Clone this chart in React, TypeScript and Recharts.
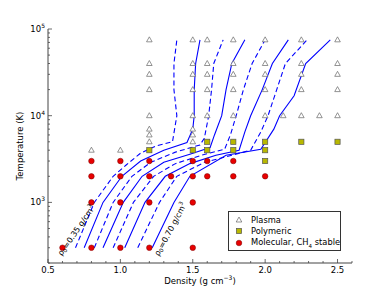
import {
  ComposedChart,
  Label,
  Legend,
  Line,
  ReferenceDot,
  Scatter,
  XAxis,
  YAxis,
} from 'recharts';

// isentropes, rho0 = 0.35 ... 0.70 g/cm3 (density g/cm3, temperature K)
const rho035 = [
  { d: 0.69, T: 300 }, { d: 0.82, T: 1000 }, { d: 0.95, T: 2000 }, { d: 1.04, T: 2700 },
  { d: 1.14, T: 3700 }, { d: 1.25, T: 4500 }, { d: 1.36, T: 5000 }, { d: 1.39, T: 10000 },
  { d: 1.37, T: 20000 }, { d: 1.37, T: 40000 }, { d: 1.39, T: 75000 },
];
const rho040 = [
  { d: 0.75, T: 300 }, { d: 0.88, T: 1000 }, { d: 1.01, T: 2000 }, { d: 1.14, T: 3000 },
  { d: 1.3, T: 4000 }, { d: 1.46, T: 4900 }, { d: 1.5, T: 7000 }, { d: 1.51, T: 10000 },
  { d: 1.51, T: 20000 }, { d: 1.52, T: 40000 }, { d: 1.55, T: 75000 },
];
const rho045 = [
  { d: 0.82, T: 300 }, { d: 0.95, T: 1000 }, { d: 1.08, T: 2000 }, { d: 1.21, T: 2900 },
  { d: 1.38, T: 3800 }, { d: 1.55, T: 4600 }, { d: 1.58, T: 5500 }, { d: 1.61, T: 10000 },
  { d: 1.63, T: 20000 }, { d: 1.645, T: 40000 }, { d: 1.71, T: 75000 },
];
const rho050 = [
  { d: 0.88, T: 300 }, { d: 1.02, T: 1000 }, { d: 1.15, T: 2000 }, { d: 1.3, T: 2900 },
  { d: 1.48, T: 3600 }, { d: 1.62, T: 4300 }, { d: 1.65, T: 6000 }, { d: 1.7, T: 10000 },
  { d: 1.73, T: 20000 }, { d: 1.77, T: 40000 }, { d: 1.86, T: 75000 },
];
const rho055 = [
  { d: 0.95, T: 300 }, { d: 1.09, T: 1000 }, { d: 1.23, T: 2000 }, { d: 1.38, T: 2800 },
  { d: 1.56, T: 3500 }, { d: 1.72, T: 4100 }, { d: 1.76, T: 6000 }, { d: 1.8, T: 10000 },
  { d: 1.85, T: 20000 }, { d: 1.91, T: 40000 }, { d: 2.0, T: 75000 },
];
const rho060 = [
  { d: 1.03, T: 300 }, { d: 1.17, T: 1000 }, { d: 1.31, T: 2000 }, { d: 1.48, T: 2800 },
  { d: 1.66, T: 3500 }, { d: 1.82, T: 4000 }, { d: 1.86, T: 6500 }, { d: 1.9, T: 10000 },
  { d: 1.98, T: 20000 }, { d: 2.05, T: 40000 }, { d: 2.16, T: 75000 },
];
const rho065 = [
  { d: 1.12, T: 300 }, { d: 1.27, T: 1000 }, { d: 1.39, T: 2000 }, { d: 1.58, T: 2900 },
  { d: 1.77, T: 3500 }, { d: 1.9, T: 4000 }, { d: 1.97, T: 6500 }, { d: 2.02, T: 10000 },
  { d: 2.08, T: 20000 }, { d: 2.14, T: 40000 }, { d: 2.29, T: 75000 },
];
const rho070 = [
  { d: 1.22, T: 300 }, { d: 1.37, T: 1000 }, { d: 1.48, T: 2000 }, { d: 1.73, T: 3500 },
  { d: 1.97, T: 4100 }, { d: 2.06, T: 7000 }, { d: 2.1, T: 10000 }, { d: 2.2, T: 17000 },
  { d: 2.28, T: 40000 }, { d: 2.45, T: 75000 },
];

const isentropes = [
  { name: '0.35', data: rho035, dashed: true },
  { name: '0.40', data: rho040, dashed: false },
  { name: '0.45', data: rho045, dashed: true },
  { name: '0.50', data: rho050, dashed: false },
  { name: '0.55', data: rho055, dashed: true },
  { name: '0.60', data: rho060, dashed: false },
  { name: '0.65', data: rho065, dashed: true },
  { name: '0.70', data: rho070, dashed: false },
];

const plasma = [
  { d: 0.8, T: 4000 }, { d: 1.0, T: 4000 },
  { d: 1.2, T: 5000 }, { d: 1.2, T: 6000 }, { d: 1.2, T: 7000 }, { d: 1.2, T: 10000 },
  { d: 1.2, T: 20000 }, { d: 1.2, T: 30000 }, { d: 1.2, T: 40000 }, { d: 1.2, T: 75000 },
  { d: 1.5, T: 5000 }, { d: 1.5, T: 6000 }, { d: 1.5, T: 7000 }, { d: 1.5, T: 10000 },
  { d: 1.5, T: 20000 }, { d: 1.5, T: 30000 }, { d: 1.5, T: 40000 }, { d: 1.5, T: 75000 },
  { d: 1.6, T: 10000 }, { d: 1.6, T: 20000 }, { d: 1.6, T: 30000 }, { d: 1.6, T: 40000 }, { d: 1.6, T: 75000 },
  { d: 1.78, T: 10000 }, { d: 1.78, T: 20000 }, { d: 1.78, T: 30000 }, { d: 1.78, T: 40000 }, { d: 1.78, T: 75000 },
  { d: 2.0, T: 10000 }, { d: 2.0, T: 20000 }, { d: 2.0, T: 30000 }, { d: 2.0, T: 40000 }, { d: 2.0, T: 75000 },
  { d: 2.125, T: 10000 },
  { d: 2.25, T: 10000 }, { d: 2.25, T: 20000 }, { d: 2.25, T: 30000 }, { d: 2.25, T: 40000 }, { d: 2.25, T: 75000 },
  { d: 2.375, T: 10000 },
  { d: 2.5, T: 10000 }, { d: 2.5, T: 20000 }, { d: 2.5, T: 30000 }, { d: 2.5, T: 40000 }, { d: 2.5, T: 75000 },
];

const polymeric = [
  { d: 1.2, T: 4000 }, { d: 1.5, T: 4000 },
  { d: 1.6, T: 4000 }, { d: 1.6, T: 5000 },
  { d: 1.78, T: 4000 }, { d: 1.78, T: 5000 },
  { d: 2.0, T: 3000 }, { d: 2.0, T: 4000 }, { d: 2.0, T: 5000 },
  { d: 2.25, T: 5000 }, { d: 2.5, T: 5000 },
];

const molecular = [
  { d: 0.6, T: 300 },
  { d: 0.8, T: 300 }, { d: 0.8, T: 1000 }, { d: 0.8, T: 2000 }, { d: 0.8, T: 3000 },
  { d: 1.0, T: 300 }, { d: 1.0, T: 1000 }, { d: 1.0, T: 2000 }, { d: 1.0, T: 3000 },
  { d: 1.2, T: 300 }, { d: 1.2, T: 1000 }, { d: 1.2, T: 2000 }, { d: 1.2, T: 3000 },
  { d: 1.35, T: 2000 },
  { d: 1.5, T: 300 }, { d: 1.5, T: 1000 }, { d: 1.5, T: 2000 }, { d: 1.5, T: 3000 },
  { d: 1.6, T: 2000 }, { d: 1.6, T: 3000 },
  { d: 1.78, T: 2000 }, { d: 1.78, T: 3000 },
  { d: 2.0, T: 2000 },
];

const xTicks = [
  0.5, 0.6, 0.7, 0.8, 0.9, 1.0, 1.1, 1.2, 1.3, 1.4, 1.5, 1.6, 1.7, 1.8, 1.9, 2.0,
  2.1, 2.2, 2.3, 2.4, 2.5, 2.6,
];
const xLabels = [0.5, 1.0, 1.5, 2.0, 2.5];
const yTicks = [
  200, 300, 400, 500, 600, 700, 800, 900, 1000, 2000, 3000, 4000, 5000, 6000, 7000,
  8000, 9000, 10000, 20000, 30000, 40000, 50000, 60000, 70000, 80000, 90000, 100000,
];

const FONT = 'DejaVu Sans, sans-serif';
const AXIS = '#444';

const isMajorX = (v: number) => xLabels.some((m) => Math.abs(m - v) < 1e-6);
const isMajorY = (v: number) => Math.abs(Math.log10(v) - Math.round(Math.log10(v))) < 1e-6;

function BottomTick({ x, y, payload }: any) {
  const major = isMajorX(payload.value);
  return (
    <g>
      <line x1={x} y1={y} x2={x} y2={y - (major ? 4 : 2)} stroke={AXIS} strokeWidth={0.8} />
      {major && (
        <text x={x} y={y + 10} textAnchor="middle" fontSize={8.5} fontFamily={FONT} fill="#000">
          {payload.value.toFixed(1)}
        </text>
      )}
    </g>
  );
}

function TopTick({ x, y, payload }: any) {
  const major = isMajorX(payload.value);
  return <line x1={x} y1={y} x2={x} y2={y + (major ? 4 : 2)} stroke={AXIS} strokeWidth={0.8} />;
}

function LeftTick({ x, y, payload }: any) {
  const major = isMajorY(payload.value);
  const exp = Math.round(Math.log10(payload.value));
  return (
    <g>
      <line x1={x} y1={y} x2={x + (major ? 4 : 2)} y2={y} stroke={AXIS} strokeWidth={0.8} />
      {major && (
        <text x={x - 3} y={y + 3} textAnchor="end" fontSize={8.5} fontFamily={FONT} fill="#000">
          10<tspan fontSize={6} dy={-4}>{exp}</tspan>
        </text>
      )}
    </g>
  );
}

function RightTick({ x, y, payload }: any) {
  const major = isMajorY(payload.value);
  return <line x1={x} y1={y} x2={x - (major ? 4 : 2)} y2={y} stroke={AXIS} strokeWidth={0.8} />;
}

const Triangle = ({ cx, cy }: any) => (
  <path
    d={`M${cx},${cy - 3} L${cx + 2.8},${cy + 2} L${cx - 2.8},${cy + 2} Z`}
    fill="#fff"
    stroke="#666"
    strokeWidth={0.7}
  />
);
const Square = ({ cx, cy }: any) => (
  <rect x={cx - 2.6} y={cy - 2.6} width={5.2} height={5.2} fill="#b8b800" stroke="#555" strokeWidth={0.7} />
);
const Dot = ({ cx, cy }: any) => (
  <circle cx={cx} cy={cy} r={2.8} fill="#e80000" stroke="#700" strokeWidth={0.5} />
);

const rhoLabels = [
  { value: '0.35', d: 0.695, T: 476, angle: -56 },
  { value: '0.70', d: 1.345, T: 490, angle: -62 },
];

function RhoText(value: string, angle: number) {
  return ({ cx, cy }: any) => (
    <text
      x={cx}
      y={cy}
      transform={`rotate(${angle} ${cx} ${cy})`}
      textAnchor="middle"
      dominantBaseline="central"
      fontSize={8}
      fontFamily={FONT}
      fill="#000"
    >
      ρ<tspan fontSize={5.5} dy={2}>0</tspan>
      <tspan dy={-2}>{`=${value} g/cm`}</tspan>
      <tspan fontSize={5.5} dy={-3}>3</tspan>
    </text>
  );
}

const legendItems = [
  { label: 'Plasma', icon: 'tri' },
  { label: 'Polymeric', icon: 'sq' },
  { label: 'Molecular, CH', icon: 'dot' },
];

function LegendBox() {
  return (
    <div
      style={{
        border: '1px solid #333',
        background: '#fff',
        width: 111,
        height: 38,
        fontFamily: FONT,
        fontSize: 8.3,
        boxSizing: 'content-box',
      }}
    >
      {legendItems.map((it) => (
        <div key={it.label} style={{ display: 'flex', alignItems: 'center', height: 11.5, marginTop: it.icon === 'tri' ? 2 : 0 }}>
          <svg width={20} height={10} style={{ flex: 'none' }}>
            {it.icon === 'tri' && <Triangle cx={10} cy={5} />}
            {it.icon === 'sq' && <Square cx={10} cy={5} />}
            {it.icon === 'dot' && <Dot cx={10} cy={5} />}
          </svg>
          <span style={{ marginLeft: 2, whiteSpace: 'nowrap' }}>
            {it.label}
            {it.icon === 'dot' && (
              <>
                <sub style={{ fontSize: 5.5 }}>4</sub> stable
              </>
            )}
          </span>
        </div>
      ))}
    </div>
  );
}

const xTitle = ({ viewBox }: any) => (
  <text
    x={viewBox.x + viewBox.width / 2}
    y={viewBox.y + 21}
    textAnchor="middle"
    fontSize={8.5}
    fontFamily={FONT}
    fill="#000"
  >
    Density (g cm<tspan fontSize={6} dy={-4}>−3</tspan>
    <tspan dy={4}>)</tspan>
  </text>
);

const yTitle = ({ viewBox }: any) => {
  const x = viewBox.x + 20;
  const y = viewBox.y + viewBox.height / 2;
  return (
    <text
      x={x}
      y={y}
      transform={`rotate(-90 ${x} ${y})`}
      textAnchor="middle"
      dominantBaseline="central"
      fontSize={8.5}
      fontFamily={FONT}
      fill="#000"
    >
      Temperature (K)
    </text>
  );
};

export default function App() {
  return (
    <div style={{ position: 'absolute', left: 0, top: 0, background: '#fff' }}>
      <ComposedChart width={390} height={293} margin={{ top: 29, right: 38, bottom: 0, left: 0 }}>
        <XAxis
          dataKey="d"
          type="number"
          domain={[0.5, 2.6]}
          ticks={xTicks}
          interval={0}
          tickSize={0}
          tickMargin={0}
          tickLine={false}
          tick={<BottomTick />}
          axisLine={{ stroke: AXIS }}
          height={30}
          allowDataOverflow
        >
          <Label content={xTitle} />
        </XAxis>
        <XAxis
          xAxisId="top"
          orientation="top"
          dataKey="d"
          type="number"
          domain={[0.5, 2.6]}
          ticks={xTicks}
          interval={0}
          tickSize={0}
          tickMargin={0}
          tickLine={false}
          tick={<TopTick />}
          axisLine={{ stroke: AXIS }}
          height={0}
          allowDataOverflow
        />
        <YAxis
          type="number"
          scale="log"
          domain={[200, 100000]}
          ticks={yTicks}
          interval={0}
          tickSize={0}
          tickMargin={0}
          tickLine={false}
          tick={<LeftTick />}
          axisLine={{ stroke: AXIS }}
          width={48}
          allowDataOverflow
        >
          <Label content={yTitle} />
        </YAxis>
        <YAxis
          yAxisId="right"
          orientation="right"
          type="number"
          scale="log"
          domain={[200, 100000]}
          ticks={yTicks}
          interval={0}
          tickSize={0}
          tickMargin={0}
          tickLine={false}
          tick={<RightTick />}
          axisLine={{ stroke: AXIS }}
          width={0}
          allowDataOverflow
        />
        {isentropes.map((s) => (
          <Line
            key={s.name}
            data={s.data}
            dataKey="T"
            type="linear"
            stroke="#0000ff"
            strokeWidth={1.1}
            strokeDasharray={s.dashed ? '5 3' : undefined}
            dot={false}
            activeDot={false}
            isAnimationActive={false}
          />
        ))}
        <Scatter data={plasma} dataKey="T" shape={<Triangle />} isAnimationActive={false} />
        <Scatter data={polymeric} dataKey="T" shape={<Square />} isAnimationActive={false} />
        <Scatter data={molecular} dataKey="T" shape={<Dot />} isAnimationActive={false} />
        {rhoLabels.map((l) => (
          <ReferenceDot key={l.value} x={l.d} y={l.T} r={0} shape={RhoText(l.value, l.angle)} />
        ))}
        <Legend
          layout="vertical"
          align="center"
          verticalAlign="middle"
          wrapperStyle={{ left: 228, top: 211, width: 113, height: 40 }}
          content={() => <LegendBox />}
        />
      </ComposedChart>
    </div>
  );
}
